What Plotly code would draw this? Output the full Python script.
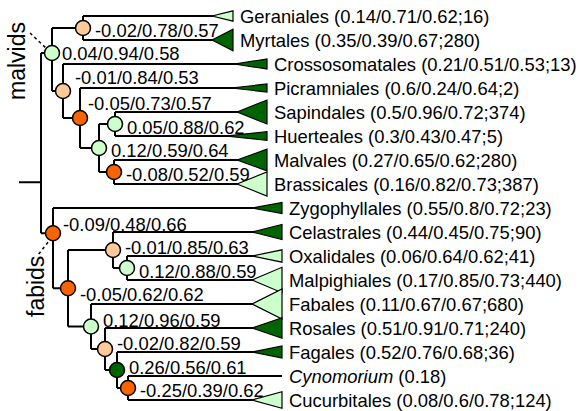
import math
import plotly.graph_objects as go

# ---- data -------------------------------------------------------------
# terminal clades, top to bottom
taxa = ["Geraniales", "Myrtales", "Crossosomatales", "Picramniales", "Sapindales",
        "Huerteales", "Malvales", "Brassicales", "Zygophyllales", "Celastrales",
        "Oxalidales", "Malpighiales", "Fabales", "Rosales", "Fagales",
        "Cynomorium", "Cucurbitales"]
tip_v1 = [0.14, 0.35, 0.21, 0.6, 0.5, 0.3, 0.27, 0.16, 0.55, 0.44,
          0.06, 0.17, 0.11, 0.51, 0.52, 0.18, 0.08]
tip_v2 = [0.71, 0.39, 0.51, 0.24, 0.96, 0.43, 0.65, 0.82, 0.8, 0.45,
          0.64, 0.85, 0.67, 0.91, 0.76, None, 0.6]
tip_v3 = [0.62, 0.67, 0.53, 0.64, 0.72, 0.47, 0.62, 0.73, 0.72, 0.75,
          0.62, 0.73, 0.67, 0.71, 0.68, None, 0.78]
tip_n = [16, 280, 13, 2, 374, 5, 280, 387, 23, 90, 41, 440, 680, 240, 36, None, 124]

# internal nodes: children and node statistics
node_names = ["root", "malvids", "ger_myr", "cross_rest", "picr_rest", "core_malv",
              "sap_hue", "malv_bras", "fabids", "com_nfc", "cel_om", "oxa_mal",
              "nfc", "ros_rest", "fag_rest", "cyn_cuc"]
node_children = [
    ["malvids", "fabids"],
    ["ger_myr", "cross_rest"],
    ["Geraniales", "Myrtales"],
    ["Crossosomatales", "picr_rest"],
    ["Picramniales", "core_malv"],
    ["sap_hue", "malv_bras"],
    ["Sapindales", "Huerteales"],
    ["Malvales", "Brassicales"],
    ["Zygophyllales", "com_nfc"],
    ["cel_om", "nfc"],
    ["Celastrales", "oxa_mal"],
    ["Oxalidales", "Malpighiales"],
    ["Fabales", "ros_rest"],
    ["Rosales", "fag_rest"],
    ["Fagales", "cyn_cuc"],
    ["Cynomorium", "Cucurbitales"],
]
node_v1 = [None, 0.04, -0.02, -0.01, -0.05, 0.12, 0.05, -0.08,
           -0.09, -0.05, -0.01, 0.12, 0.12, -0.02, 0.26, -0.25]
node_v2 = [None, 0.94, 0.78, 0.84, 0.73, 0.59, 0.88, 0.52,
           0.48, 0.62, 0.85, 0.88, 0.96, 0.82, 0.56, 0.39]
node_v3 = [None, 0.58, 0.57, 0.53, 0.57, 0.64, 0.62, 0.59,
           0.66, 0.62, 0.63, 0.59, 0.59, 0.59, 0.61, 0.62]

# ---- layout / style ---------------------------------------------------
W, H = 580, 411
ROW_PX, TOP_PX = 24.0, 16.0
FONT = "Liberation Sans, Arial, sans-serif"
FS = 18.4
DARK, LIGHT, PEACH, ORANGE = "#006400", "#ccffcc", "#fdca98", "#fa6400"

# horizontal position of each internal node (drawing units)
node_x = {"root": 41, "malvids": 52, "ger_myr": 83, "cross_rest": 63, "picr_rest": 80,
          "core_malv": 99, "sap_hue": 115, "malv_bras": 114, "fabids": 53,
          "com_nfc": 68, "cel_om": 113, "oxa_mal": 127, "nfc": 91, "ros_rest": 105,
          "fag_rest": 117, "cyn_cuc": 128}
stem_x = 19
# vertical offsets (rows) for a few hand-placed joins
y_nudge = {"malvids": -0.27, "fabids": -0.62, "root": 1.63}
# right edge of the terminal triangles
tip_x = {t: (233 if i < 2 else 267 if i < 8 else 282) for i, t in enumerate(taxa)}
tri_len = {"Geraniales": 21, "Myrtales": 21, "Picramniales": 36,
           "Huerteales": 42, "Crossosomatales": 33}
# node-label offsets in px (right, up)
label_dx = {"picr_rest": 7, "malvids": 9, "fabids": 9}
label_dy = {"ger_myr": -2, "cross_rest": 14, "picr_rest": 15, "sap_hue": -3,
            "core_malv": -2, "malv_bras": -2, "fabids": 9, "cel_om": 3, "oxa_mal": -3,
            "com_nfc": -6, "nfc": 6, "ros_rest": 6, "fag_rest": 3, "cyn_cuc": -2}

row = {t: i for i, t in enumerate(taxa)}
kids = dict(zip(node_names, node_children))
stats = {n: (a, b, c) for n, a, b, c in zip(node_names, node_v1, node_v2, node_v3)}


def ypos(name):
    if name in row:
        return float(row[name])
    ch = kids[name]
    return (ypos(ch[0]) + ypos(ch[-1])) / 2 + y_nudge.get(name, 0.0)


def node_color(v):
    if v >= 0.2:
        return DARK
    if v >= 0:
        return LIGHT
    if v > -0.05:
        return PEACH
    return ORANGE


def half_height(n):
    # triangle half-height (px) grows with the number of taxa in the clade
    return 3.35 + 0.445 * math.sqrt(n)


fig = go.Figure()

# ---- branches ---------------------------------------------------------
bx, by = [], []
for name in node_names:
    x0 = node_x[name]
    ch = kids[name]
    bx += [x0, x0, None]
    by += [ypos(ch[0]), ypos(ch[-1]), None]
    for c in ch:
        x1 = node_x[c] if c in kids else tip_x[c]
        bx += [x0, x1, None]
        by += [ypos(c), ypos(c), None]
bx += [stem_x, node_x["root"], None]
by += [ypos("root"), ypos("root"), None]
fig.add_trace(go.Scatter(x=bx, y=by, mode="lines", line=dict(color="black", width=2),
                         hoverinfo="skip", showlegend=False))

# ---- label pointer lines for the two clades ---------------------------
for nm, dx0, dy0, dx1, dy1 in [("malvids", -22, -20, -5, -4), ("fabids", -5, 9, -16, 23)]:
    xc, yc = node_x[nm], ypos(nm)
    fig.add_trace(go.Scatter(x=[xc + dx0, xc + dx1],
                             y=[yc + dy0 / ROW_PX, yc + dy1 / ROW_PX],
                             mode="lines", line=dict(color="black", width=1.5, dash="dot"),
                             hoverinfo="skip", showlegend=False))

# ---- collapsed-clade triangles ----------------------------------------
for t, v1, n in zip(taxa, tip_v1, tip_n):
    if n is None:
        continue
    xb = tip_x[t]
    xa = xb - tri_len.get(t, 30)
    h = half_height(n) / ROW_PX
    y = ypos(t)
    fig.add_trace(go.Scatter(x=[xa, xb, xb, xa], y=[y, y - h, y + h, y],
                             mode="lines", fill="toself", fillcolor=DARK if v1 >= 0.2 else LIGHT,
                             line=dict(color="black", width=1.2),
                             hoverinfo="skip", showlegend=False))

# ---- node circles -----------------------------------------------------
inner = [n for n in node_names if stats[n][0] is not None]
fig.add_trace(go.Scatter(
    x=[node_x[n] for n in inner], y=[ypos(n) for n in inner], mode="markers",
    marker=dict(size=15, color=[node_color(stats[n][0]) for n in inner],
                line=dict(color="black", width=1.5)),
    hoverinfo="skip", showlegend=False))

ann = []
for n in inner:
    a, b, c = stats[n]
    ann.append(dict(x=node_x[n], y=ypos(n), text=f"{a:g}/{b:g}/{c:g}",
                    xanchor="left", yanchor="middle", showarrow=False,
                    xshift=label_dx.get(n, 11) - 1, yshift=label_dy.get(n, 0),
                    font=dict(family=FONT, size=FS, color="black")))

for t, a, b, c, n in zip(taxa, tip_v1, tip_v2, tip_v3, tip_n):
    if n is None:
        text = f"<i>{t}</i> ({a:g})"
    else:
        text = f"{t} ({a:g}/{b:g}/{c:g};{n})"
    ann.append(dict(x=tip_x[t], y=ypos(t), text=text, xanchor="left", yanchor="middle",
                    showarrow=False, xshift=5,
                    font=dict(family=FONT, size=FS, color="black")))

# clade names
ann.append(dict(x=17, y=(61 - TOP_PX) / ROW_PX, text="malvids", textangle=-90,
                showarrow=False, xanchor="center", yanchor="middle",
                font=dict(family=FONT, size=23, color="black")))
ann.append(dict(x=36, y=(287 - TOP_PX) / ROW_PX, text="fabids", textangle=-90,
                showarrow=False, xanchor="center", yanchor="middle",
                font=dict(family=FONT, size=23, color="black")))

fig.update_layout(
    width=W, height=H, margin=dict(l=0, r=0, t=0, b=0),
    paper_bgcolor="white", plot_bgcolor="white",
    xaxis=dict(range=[0, W], visible=False, fixedrange=True),
    yaxis=dict(range=[(H - TOP_PX) / ROW_PX, -TOP_PX / ROW_PX], visible=False, fixedrange=True),
    annotations=ann, showlegend=False,
)

fig.write_html("out.html")
